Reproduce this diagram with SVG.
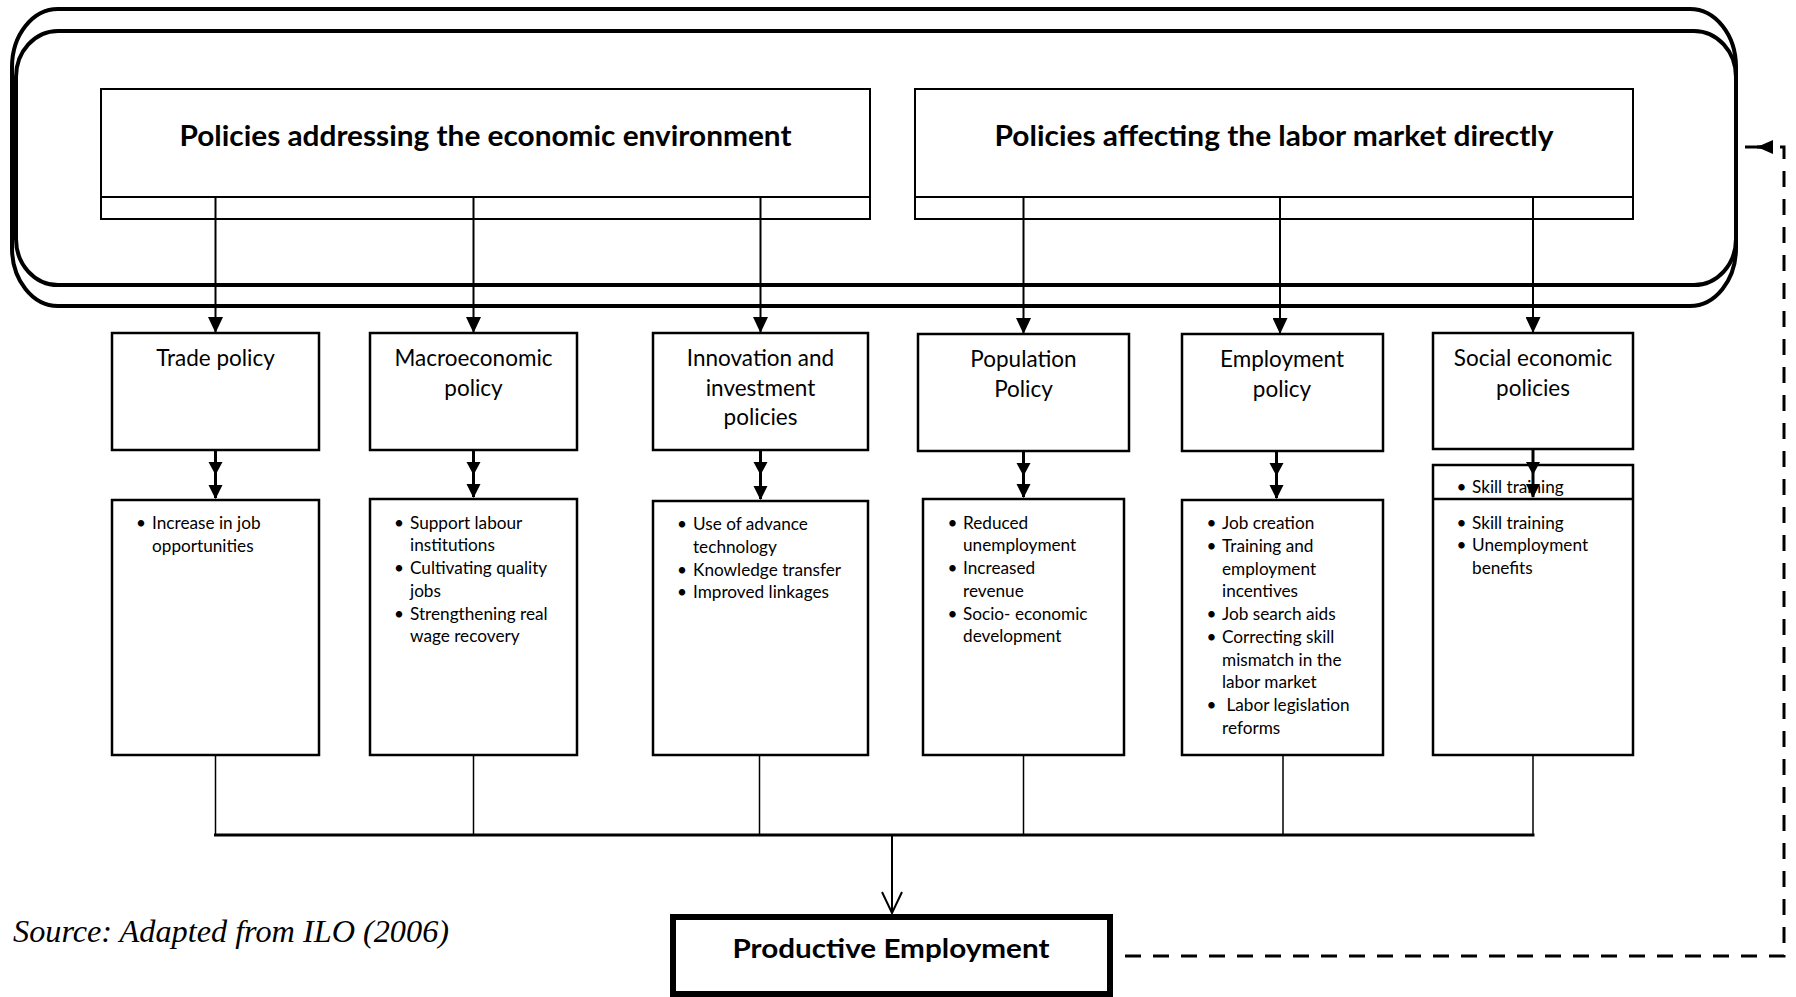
<svg xmlns="http://www.w3.org/2000/svg" width="1796" height="997" viewBox="0 0 1796 997">
<defs>
<style>
.frame{fill:none;stroke:#000;stroke-width:4}
.hdr{fill:#fff;stroke:#000;stroke-width:2}
.box{fill:#fff;stroke:#000;stroke-width:2.5}
.htxt{font-family:Lato,"Liberation Sans",sans-serif;font-weight:bold;font-size:28.5px;text-anchor:middle;fill:#000}
.ttl{font-family:Lato,"Liberation Sans",sans-serif;font-size:22.5px;text-anchor:middle;fill:#000}
.bl{font-family:Lato,"Liberation Sans",sans-serif;font-size:17.2px;fill:#000}
.ln{fill:none;stroke:#000;stroke-width:2}
.thk{fill:none;stroke:#000;stroke-width:3}
.thin{fill:none;stroke:#000;stroke-width:1.5}
.dash{fill:none;stroke:#000;stroke-width:3;stroke-dasharray:16 12}
</style>
<marker id="ah" markerWidth="16" markerHeight="15" refX="16" refY="7.5" orient="auto" markerUnits="userSpaceOnUse">
<path d="M0,0 L16,7.5 L0,15 Z" fill="#000"/>
</marker>
<marker id="ahs" markerWidth="16" markerHeight="14" refX="16" refY="7" orient="auto" markerUnits="userSpaceOnUse">
<path d="M0,0 L16,7 L0,14 Z" fill="#000"/>
</marker>
<marker id="open" markerWidth="24" markerHeight="22" refX="22" refY="11" orient="auto" markerUnits="userSpaceOnUse">
<path d="M1,1 L22,11 L1,21" fill="none" stroke="#000" stroke-width="2"/>
</marker>
</defs>
<rect width="1796" height="997" fill="#fff"/>

<g id="frame">
<rect class="frame" x="12" y="9" width="1724" height="297" rx="46" ry="58"/>
<rect class="frame" x="16" y="31" width="1720" height="254" rx="42" ry="46"/>
</g>

<g id="hdr-economic">
<rect class="hdr" x="101" y="89" width="769" height="130"/>
<line class="ln" x1="101" y1="197" x2="870" y2="197"/>
<text class="htxt" x="485.5" y="146" textLength="612" lengthAdjust="spacingAndGlyphs">Policies addressing the economic environment</text>
</g>
<g id="hdr-labor">
<rect class="hdr" x="915" y="89" width="718" height="130"/>
<line class="ln" x1="915" y1="197" x2="1633" y2="197"/>
<text class="htxt" x="1274" y="146" textLength="559" lengthAdjust="spacingAndGlyphs">Policies affecting the labor market directly</text>
</g>

<g id="trade">
<rect class="box" x="112" y="333" width="207" height="117"/>
<text class="ttl" x="215.5" y="366">Trade policy</text>
</g>
<g id="macro">
<rect class="box" x="370" y="333" width="207" height="117"/>
<text class="ttl" x="473.5" y="366">Macroeconomic</text>
<text class="ttl" x="473.5" y="395.5">policy</text>
</g>
<g id="innovation">
<rect class="box" x="653" y="333" width="215" height="117"/>
<text class="ttl" x="760.5" y="366">Innovation and</text>
<text class="ttl" x="760.5" y="395.5">investment</text>
<text class="ttl" x="760.5" y="425">policies</text>
</g>
<g id="population">
<rect class="box" x="918" y="334" width="211" height="117"/>
<text class="ttl" x="1023.5" y="367">Population</text>
<text class="ttl" x="1023.5" y="396.5">Policy</text>
</g>
<g id="employment">
<rect class="box" x="1182" y="334" width="201" height="117"/>
<text class="ttl" x="1282" y="367">Employment</text>
<text class="ttl" x="1282" y="396.5">policy</text>
</g>
<g id="social">
<rect class="box" x="1433" y="333" width="200" height="116"/>
<text class="ttl" x="1533" y="366">Social economic</text>
<text class="ttl" x="1533" y="395.5">policies</text>
</g>

<g id="trade-out">
<rect class="box" x="112" y="500" width="207" height="255"/>
<text class="bl" x="136" y="529">•</text>
<text class="bl" x="152" y="529">Increase in job</text>
<text class="bl" x="152" y="551.75">opportunities</text>
</g>
<g id="macro-out">
<rect class="box" x="370" y="499" width="207" height="256"/>
<text class="bl" x="394" y="528.5">•</text>
<text class="bl" x="410" y="528.5">Support labour</text>
<text class="bl" x="410" y="551.25">institutions</text>
<text class="bl" x="394" y="574">•</text>
<text class="bl" x="410" y="574">Cultivating quality</text>
<text class="bl" x="410" y="596.75">jobs</text>
<text class="bl" x="394" y="619.5">•</text>
<text class="bl" x="410" y="619.5">Strengthening real</text>
<text class="bl" x="410" y="642.25">wage recovery</text>
</g>
<g id="innovation-out">
<rect class="box" x="653" y="501" width="215" height="254"/>
<text class="bl" x="677" y="530">•</text>
<text class="bl" x="693" y="530">Use of advance</text>
<text class="bl" x="693" y="552.75">technology</text>
<text class="bl" x="677" y="575.5">•</text>
<text class="bl" x="693" y="575.5">Knowledge transfer</text>
<text class="bl" x="677" y="598.25">•</text>
<text class="bl" x="693" y="598.25">Improved linkages</text>
</g>
<g id="population-out">
<rect class="box" x="923" y="499" width="201" height="256"/>
<text class="bl" x="947.5" y="528.5">•</text>
<text class="bl" x="963" y="528.5">Reduced</text>
<text class="bl" x="963" y="551.25">unemployment</text>
<text class="bl" x="947.5" y="574">•</text>
<text class="bl" x="963" y="574">Increased</text>
<text class="bl" x="963" y="596.75">revenue</text>
<text class="bl" x="947.5" y="619.5">•</text>
<text class="bl" x="963" y="619.5">Socio- economic</text>
<text class="bl" x="963" y="642.25">development</text>
</g>
<g id="employment-out">
<rect class="box" x="1182" y="500" width="201" height="255"/>
<text class="bl" x="1206.5" y="529">•</text>
<text class="bl" x="1222" y="529">Job creation</text>
<text class="bl" x="1206.5" y="551.75">•</text>
<text class="bl" x="1222" y="551.75">Training and</text>
<text class="bl" x="1222" y="574.5">employment</text>
<text class="bl" x="1222" y="597.25">incentives</text>
<text class="bl" x="1206.5" y="620">•</text>
<text class="bl" x="1222" y="620">Job search aids</text>
<text class="bl" x="1206.5" y="642.75">•</text>
<text class="bl" x="1222" y="642.75">Correcting skill</text>
<text class="bl" x="1222" y="665.5">mismatch in the</text>
<text class="bl" x="1222" y="688.25">labor market</text>
<text class="bl" x="1206.5" y="711">•</text>
<text class="bl" x="1226.5" y="711">Labor legislation</text>
<text class="bl" x="1222" y="733.75">reforms</text>
</g>
<g id="social-out">
<rect class="box" x="1433" y="465" width="200" height="290"/>
<line class="box" x1="1433" y1="499" x2="1633" y2="499"/>
<text class="bl" x="1456.5" y="493">•</text>
<text class="bl" x="1472" y="493">Skill training</text>
<text class="bl" x="1456.5" y="528.5">•</text>
<text class="bl" x="1472" y="528.5">Skill training</text>
<text class="bl" x="1456.5" y="551.25">•</text>
<text class="bl" x="1472" y="551.25">Unemployment</text>
<text class="bl" x="1472" y="574">benefits</text>
</g>

<g id="productive">
<rect x="673" y="917" width="437" height="77" fill="#fff" stroke="#000" stroke-width="6"/>
<text class="htxt" style="font-size:27px" x="891" y="958" textLength="317" lengthAdjust="spacingAndGlyphs">Productive Employment</text>
</g>

<g id="source">
<text x="13" y="942" font-family="Liberation Serif, serif" font-style="italic" font-size="31" textLength="436" lengthAdjust="spacingAndGlyphs">Source: Adapted from ILO (2006)</text>
</g>

<g id="connectors">
<line class="ln" x1="215.5" y1="197" x2="215.5" y2="333" marker-end="url(#ah)"/>
<line class="ln" x1="473.5" y1="197" x2="473.5" y2="333" marker-end="url(#ah)"/>
<line class="ln" x1="760.5" y1="197" x2="760.5" y2="333" marker-end="url(#ah)"/>
<line class="ln" x1="1023.5" y1="197" x2="1023.5" y2="334" marker-end="url(#ah)"/>
<line class="ln" x1="1280" y1="197" x2="1280" y2="334" marker-end="url(#ah)"/>
<line class="ln" x1="1533" y1="197" x2="1533" y2="333" marker-end="url(#ah)"/>

<g id="double-arrows">
<line class="thk" x1="215.5" y1="450" x2="215.5" y2="498"/>
<path d="M208.5,462 L222.5,462 L215.5,475 Z M208.5,485 L222.5,485 L215.5,499 Z"/>
<line class="thk" x1="473.5" y1="450" x2="473.5" y2="497"/>
<path d="M466.5,462 L480.5,462 L473.5,475 Z M466.5,484 L480.5,484 L473.5,498 Z"/>
<line class="thk" x1="760.5" y1="450" x2="760.5" y2="499"/>
<path d="M753.5,462 L767.5,462 L760.5,475 Z M753.5,486 L767.5,486 L760.5,500 Z"/>
<line class="thk" x1="1023.5" y1="451" x2="1023.5" y2="497"/>
<path d="M1016.5,463 L1030.5,463 L1023.5,476 Z M1016.5,484 L1030.5,484 L1023.5,498 Z"/>
<line class="thk" x1="1276.5" y1="451" x2="1276.5" y2="498"/>
<path d="M1269.5,463 L1283.5,463 L1276.5,476 Z M1269.5,485 L1283.5,485 L1276.5,499 Z"/>
<line class="thk" x1="1533" y1="449" x2="1533" y2="497"/>
<path d="M1526,462 L1540,462 L1533,475 Z M1526,484 L1540,484 L1533,498 Z"/>
</g>

<g id="bus">
<line class="thin" x1="215.5" y1="755" x2="215.5" y2="835"/>
<line class="thin" x1="473.5" y1="755" x2="473.5" y2="835"/>
<line class="thin" x1="759.5" y1="755" x2="759.5" y2="835"/>
<line class="thin" x1="1023.5" y1="755" x2="1023.5" y2="835"/>
<line class="thin" x1="1283" y1="755" x2="1283" y2="835"/>
<line class="thin" x1="1533" y1="755" x2="1533" y2="835"/>
<line class="thk" x1="214" y1="835" x2="1534.5" y2="835"/>
<line class="ln" x1="892" y1="835" x2="892" y2="913" marker-end="url(#open)"/>
</g>

<path class="dash" d="M1125,956 H1784 V147 H1757" marker-end="url(#ahs)"/>
<line class="ln" x1="1770" y1="147" x2="1745" y2="147" style="stroke-width:3"/>
</g>
</svg>
